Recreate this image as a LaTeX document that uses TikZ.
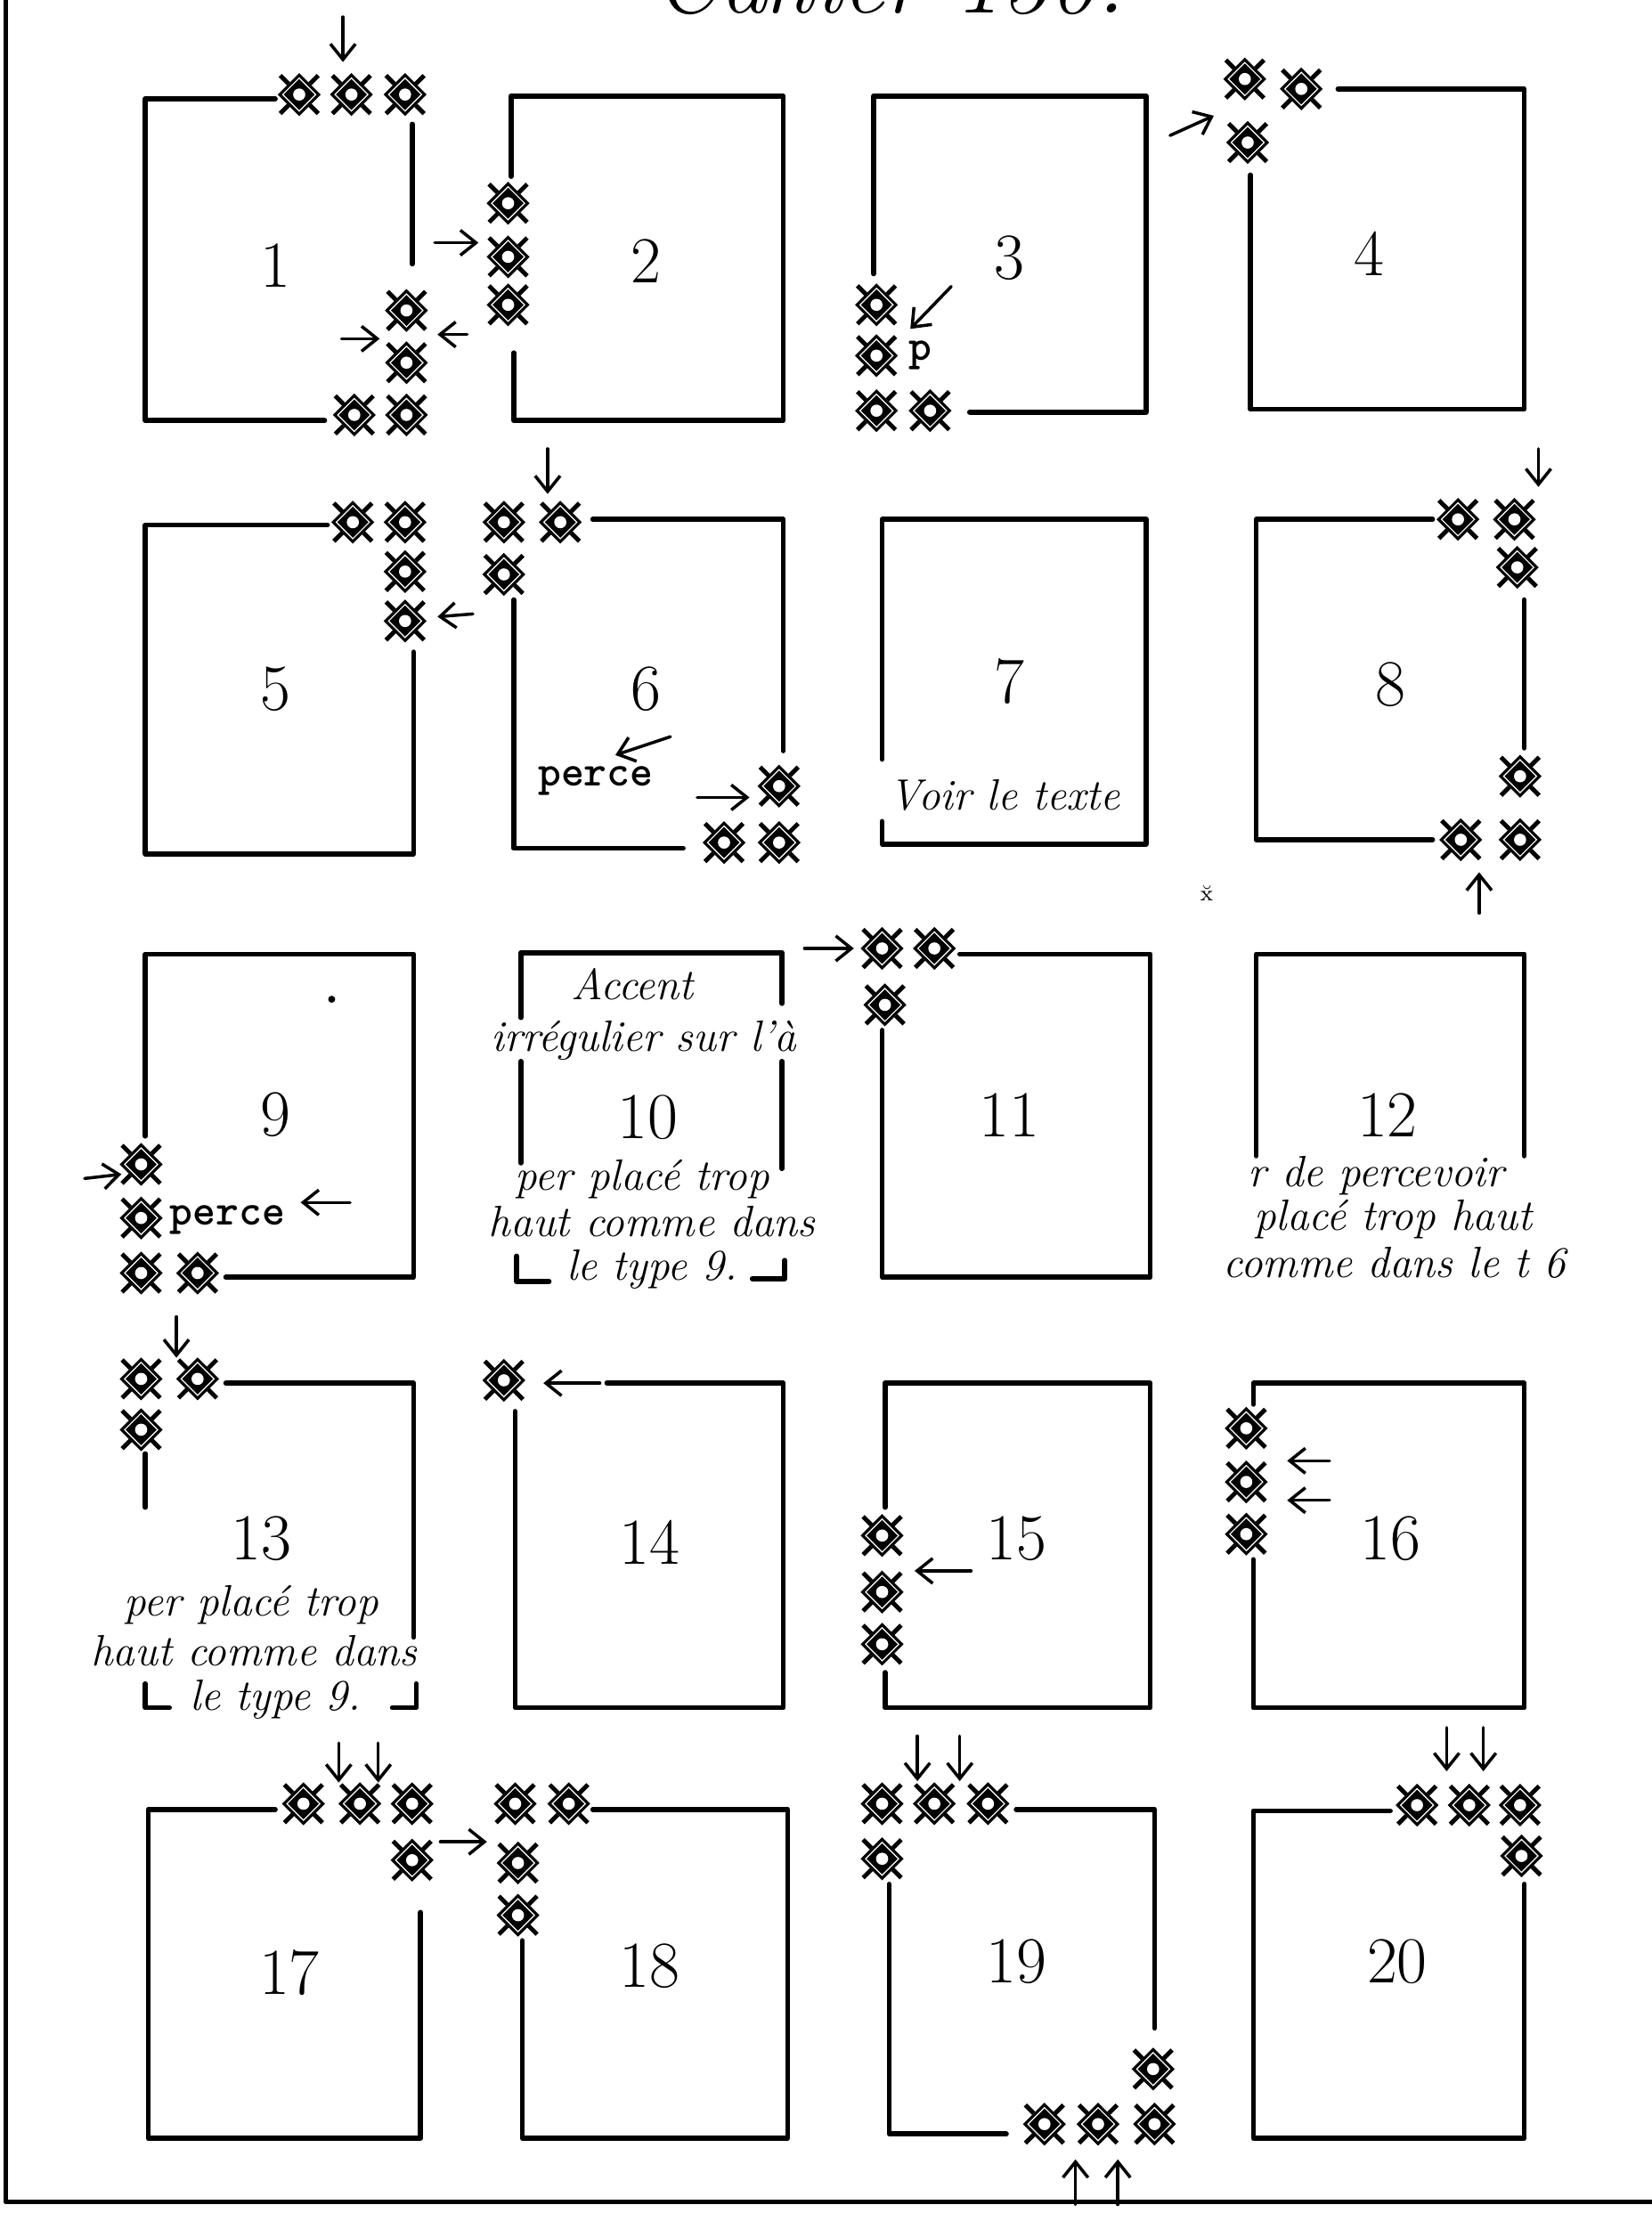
\documentclass[tikz,border=0pt]{standalone}
\usetikzlibrary{arrows.meta}
\begin{document}
\begin{tikzpicture}[x=0.015855cm,y=-0.015855cm,
 bx/.style={line width=1.6pt,line cap=round,line join=round},
 arr/.style={line width=1pt,line cap=round,-{Straight Barb[length=5pt,width=8pt,line width=1pt]}},
 num/.style={font=\fontsize{21}{25}\selectfont},
 note/.style={font=\itshape\fontsize{14}{16}\selectfont,inner sep=0pt},
 tt/.style={font=\ttfamily\bfseries\fontsize{14}{16}\selectfont,inner sep=0pt},
 orn/.pic={
  \draw[line width=1.4pt] (-13.5,-13.5)--(13.5,13.5) (-13.5,13.5)--(13.5,-13.5);
  \fill[white] (0,15)--(15,0)--(0,-15)--(-15,0)--cycle;
  \draw[line width=0.9pt] (0,13.8)--(13.8,0)--(0,-13.8)--(-13.8,0)--cycle;
  \fill[black] (0,11)--(11,0)--(0,-11)--(-11,0)--cycle;
  \fill[white] (0,0) circle (4.3);
 }]
\useasboundingbox (0,0) rectangle (1170,1568);
% title (cut by the page edge, as in the original)
\node[font=\itshape\fontsize{30}{30}\selectfont,anchor=base] (title) at (630,9) {Cahier 130.};
% page frame
\draw[bx] (4,0) -- (4,1560) -- (1170,1560);

% ---------- Box 1
\draw[bx] (195,70) -- (103,70) -- (103,298) -- (230,298);
\draw[bx] (292,88) -- (292,187);
\foreach \p in {(212,67),(249,67),(287,67),(288,220),(288,257),(288,294),(251,294)} \pic at \p {orn};
\draw[arr] (243,12) -- (243,44);
\draw[arr] (308,172) -- (339,172);
\draw[arr] (242,240) -- (269,240);
\draw[arr] (331,237) -- (310,237);
\node[num] (n1) at (195,188) {1};
% ---------- Box 2
\draw[bx] (362,125) -- (362,68) -- (555,68) -- (555,298) -- (364,298) -- (364,250);
\foreach \p in {(360,144),(360,182),(360,216)} \pic at \p {orn};
\node[num] (n2) at (458,185) {2};
% ---------- Box 3
\draw[bx] (619,194) -- (619,68) -- (812,68) -- (812,292) -- (687,292);
\foreach \p in {(621,216),(621,252),(621,291),(659,291)} \pic at \p {orn};
\node[tt] (p3) at (652,252) {p};
\draw[arr] (674,203) -- (645,233);
\node[num] (n3) at (715,183) {3};
% ---------- Box 4
\draw[bx] (948,63) -- (1080,63) -- (1080,290) -- (886,290) -- (886,124);
\foreach \p in {(882,56),(922,63),(884,101)} \pic at \p {orn};
\draw[arr] (829,96) -- (860,82);
\node[num] (n4) at (970,180) {4};

% ---------- Box 5
\draw[bx] (232,372) -- (103,372) -- (103,605) -- (293,605) -- (293,462);
\foreach \p in {(250,370),(287,370),(287,405),(287,440)} \pic at \p {orn};
\draw[arr] (335,435) -- (310,437);
\node[num] (n5) at (195,488) {5};
% ---------- Box 6
\draw[bx] (420,368) -- (555,368) -- (555,532);
\draw[bx] (364,425) -- (364,601) -- (484,601);
\foreach \p in {(357,370),(397,370),(357,407),(552,557),(513,597),(552,597)} \pic at \p {orn};
\draw[arr] (388,318) -- (388,350);
\draw[arr] (494,565) -- (531,565);
\node[tt,anchor=base] (perce6) at (422,557) {perce};
\draw[arr] (475,522) -- (436,535);
\node[num] (n6) at (458,488) {6};
% ---------- Box 7
\draw[bx] (625,538) -- (625,368) -- (812,368) -- (812,598) -- (625,598) -- (625,582);
\node[num] (n7) at (715,483) {7};
\node[note,anchor=base] (t7) at (712,574) {Voir le texte};
% ---------- Box 8
\draw[bx] (1015,368) -- (890,368) -- (890,595) -- (1015,595);
\draw[bx] (1080,425) -- (1080,530);
\foreach \p in {(1033,368),(1073,368),(1075,402),(1077,550),(1035,595),(1077,595)} \pic at \p {orn};
\draw[arr] (1090,318) -- (1090,345);
\draw[arr] (1048,647) -- (1048,618);
\node[num] (n8) at (985,485) {8};
\node[font=\scriptsize] (mark) at (855,633) {\u{x}};

% ---------- Box 9
\draw[bx] (103,805) -- (103,676) -- (293,676) -- (293,905) -- (160,905);
\foreach \p in {(100,825),(100,863),(100,902),(140,902)} \pic at \p {orn};
\draw[arr] (60,835) -- (86,832);
\node[tt,anchor=base west] (perce9) at (120,868) {perce};
\draw[arr] (248,852) -- (213,852);
\fill (235,708) circle (2.5);
\node[num] (n9) at (195,790) {9};
% ---------- Box 10
\draw[bx] (369,721) -- (369,675) -- (554,675) -- (554,711);
\draw[bx] (369,752) -- (369,824);
\draw[bx] (554,752) -- (554,828);
\draw[bx] (366,890) -- (366,908) -- (389,908);
\draw[bx] (533,906) -- (556,906) -- (556,893);
\node[note,anchor=base] (a10) at (448,708) {Accent};
\node[note,anchor=base] (b10) at (456,745) {irrégulier sur l'à};
\node[num] (n10) at (459,792) {10};
\node[note,anchor=base] (c10) at (455,843) {per placé trop};
\node[note,anchor=base] (d10) at (462,876) {haut comme dans};
\node[note,anchor=base] (e10) at (462,907) {le type 9.};
% ---------- Box 11
\draw[bx] (680,676) -- (815,676) -- (815,905) -- (625,905) -- (625,730);
\foreach \p in {(625,672),(662,672),(627,712)} \pic at \p {orn};
\draw[arr] (570,672) -- (605,672);
\node[num] (n11) at (715,790) {11};
% ---------- Box 12
\draw[bx] (890,819) -- (890,676) -- (1080,676) -- (1080,819);
\node[num] (n12) at (983,790) {12};
\node[note,anchor=base] (a12) at (975,841) {r de percevoir};
\node[note,anchor=base] (b12) at (987,872) {placé trop haut};
\node[note,anchor=base] (c12) at (988,905) {comme dans le t 6};

% ---------- Box 13
\draw[bx] (160,980) -- (293,980) -- (293,1160);
\draw[bx] (103,1030) -- (103,1068);
\draw[bx] (103,1193) -- (103,1210) -- (120,1210);
\draw[bx] (278,1210) -- (295,1210) -- (295,1193);
\foreach \p in {(100,977),(140,977),(100,1013)} \pic at \p {orn};
\draw[arr] (125,933) -- (125,962);
\node[num] (n13) at (185,1090) {13};
\node[note,anchor=base] (a13) at (178,1145) {per placé trop};
\node[note,anchor=base] (b13) at (180,1180) {haut comme dans};
\node[note,anchor=base] (c13) at (195,1212) {le type 9.};
% ---------- Box 14
\draw[bx] (430,980) -- (555,980) -- (555,1210) -- (365,1210) -- (365,1000);
\pic at (357,978) {orn};
\draw[arr] (425,980) -- (385,980);
\node[num] (n14) at (460,1093) {14};
% ---------- Box 15
\draw[bx] (627,1068) -- (627,980) -- (815,980) -- (815,1210) -- (627,1210) -- (627,1185);
\foreach \p in {(625,1088),(625,1128),(625,1165)} \pic at \p {orn};
\draw[arr] (688,1113) -- (648,1113);
\node[num] (n15) at (720,1090) {15};
% ---------- Box 16
\draw[bx] (888,995) -- (888,980) -- (1080,980) -- (1080,1210) -- (888,1210) -- (888,1105);
\foreach \p in {(883,1012),(883,1050),(883,1087)} \pic at \p {orn};
\draw[arr] (942,1035) -- (912,1035);
\draw[arr] (942,1063) -- (912,1063);
\node[num] (n16) at (985,1090) {16};

% ---------- Box 17
\draw[bx] (195,1282) -- (105,1282) -- (105,1515) -- (298,1515) -- (298,1355);
\foreach \p in {(215,1278),(255,1278),(292,1278),(292,1318)} \pic at \p {orn};
\draw[arr] (240,1235) -- (240,1263);
\draw[arr] (268,1235) -- (268,1263);
\node[num] (n17) at (205,1398) {17};
% ---------- Box 18
\draw[bx] (420,1282) -- (558,1282) -- (558,1515) -- (370,1515) -- (370,1375);
\foreach \p in {(365,1278),(403,1278),(367,1320),(367,1357)} \pic at \p {orn};
\draw[arr] (312,1305) -- (345,1305);
\node[num] (n18) at (460,1393) {18};
% ---------- Box 19
\draw[bx] (720,1282) -- (818,1282) -- (818,1437);
\draw[bx] (713,1512) -- (630,1512) -- (630,1335);
\foreach \p in {(625,1278),(662,1278),(700,1278),(625,1317),(817,1466),(740,1505),(778,1505),(818,1505)} \pic at \p {orn};
\draw[arr] (650,1230) -- (650,1262);
\draw[arr] (680,1230) -- (680,1262);
\draw[arr] (762,1562) -- (762,1530);
\draw[arr] (792,1562) -- (792,1530);
\node[num] (n19) at (720,1390) {19};
% ---------- Box 20
\draw[bx] (985,1283) -- (888,1283) -- (888,1515) -- (1080,1515) -- (1080,1335);
\foreach \p in {(1004,1279),(1041,1279),(1077,1279),(1078,1315)} \pic at \p {orn};
\draw[arr] (1025,1224) -- (1025,1255);
\draw[arr] (1051,1224) -- (1051,1255);
\node[num] (n20) at (990,1390) {20};
\end{tikzpicture}
\end{document}
